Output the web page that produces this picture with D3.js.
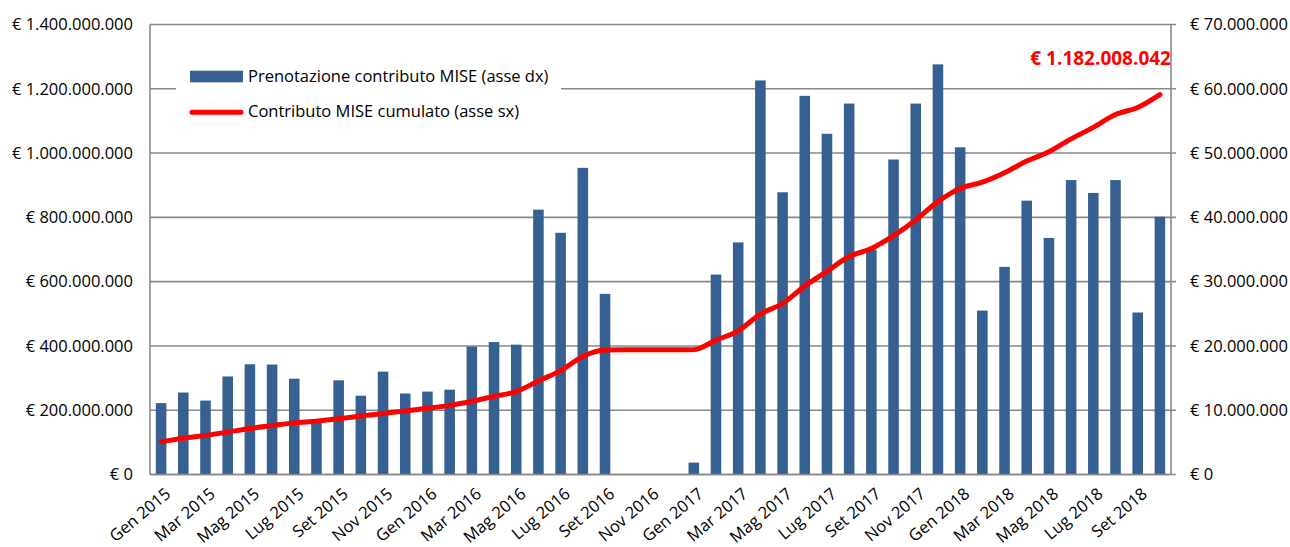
<!DOCTYPE html>
<html>
<head>
<meta charset="utf-8">
<script src="https://cdn.jsdelivr.net/npm/d3@7"></script>
<style>
  html, body { margin: 0; padding: 0; background: #fff; }
  svg { display: block; font-family: "Open Sans", "Noto Sans", sans-serif; }
</style>
</head>
<body>
<svg id="chart" width="1290" height="547"></svg>
<script>
// ---- Data ----
const months = [
  "Gen 2015","Feb 2015","Mar 2015","Apr 2015","Mag 2015","Giu 2015","Lug 2015","Ago 2015","Set 2015","Ott 2015","Nov 2015","Dic 2015",
  "Gen 2016","Feb 2016","Mar 2016","Apr 2016","Mag 2016","Giu 2016","Lug 2016","Ago 2016","Set 2016","Ott 2016","Nov 2016","Dic 2016",
  "Gen 2017","Feb 2017","Mar 2017","Apr 2017","Mag 2017","Giu 2017","Lug 2017","Ago 2017","Set 2017","Ott 2017","Nov 2017","Dic 2017",
  "Gen 2018","Feb 2018","Mar 2018","Apr 2018","Mag 2018","Giu 2018","Lug 2018","Ago 2018","Set 2018","Ott 2018"
];
// Monthly booking of MISE contribution (right axis), euro
const prenotazione = [
  11100000,12750000,11500000,15250000,17150000,17100000,14900000,8000000,14650000,12260000,16000000,12600000,
  12900000,13200000,19900000,20600000,20200000,41200000,37600000,47700000,28100000,0,0,0,
  1850000,31100000,36100000,61300000,43900000,58900000,53000000,57700000,35000000,49000000,57700000,63800000,
  50900000,25500000,32300000,42600000,36800000,45800000,43800000,45800000,25200000,40100000
];
// Cumulative MISE contribution (left axis), euro
const cumulato = [
  102000000,113000000,121500000,132000000,143000000,152000000,160600000,166000000,173600000,182000000,190000000,197500000,
  206000000,215000000,228000000,243000000,258000000,291000000,323000000,367000000,387000000,388000000,388000000,388000000,
  388500000,418000000,447000000,499000000,532000000,586000000,632000000,678000000,703000000,743000000,792000000,849000000,
  890000000,909500000,939000000,975000000,1004000000,1044000000,1080000000,1120000000,1142000000,1182008042
];
const xTickLabels = months.filter((m, i) => i % 2 === 0);
const leftTicks = [0,200000000,400000000,600000000,800000000,1000000000,1200000000,1400000000];
const rightTicks = [0,10000000,20000000,30000000,40000000,50000000,60000000,70000000];
const legendLabels = ["Prenotazione contributo MISE (asse dx)", "Contributo MISE cumulato (asse sx)"];
const annotationText = "€ 1.182.008.042";

// ---- Setup ----
const svg = d3.select("#chart");
const L = 150, R = 1171, T = 24.5, B = 474.5;
const barColor = "#376092";
const gridColor = "#898989";
const FS = 16.5;

const x = d3.scaleBand().domain(months).range([L, R]).paddingInner(0).paddingOuter(0);
const yL = d3.scaleLinear().domain([0, 1400000000]).range([B, T]);
const yR = d3.scaleLinear().domain([0, 70000000]).range([B, T]);

const loc = d3.formatLocale({decimal: ",", thousands: ".", grouping: [3], currency: ["€ ", ""]});
const fmt = loc.format("$,.0f");

// Gridlines (left axis)
svg.append("g")
  .selectAll("line").data(leftTicks).join("line")
  .attr("x1", L).attr("x2", R + 5)
  .attr("y1", d => yL(d)).attr("y2", d => yL(d))
  .attr("stroke", gridColor).attr("stroke-width", 1.6);

// Axis lines
svg.append("line").attr("x1", L).attr("x2", L).attr("y1", T).attr("y2", B)
  .attr("stroke", gridColor).attr("stroke-width", 1.6);
svg.append("line").attr("x1", R).attr("x2", R).attr("y1", T).attr("y2", B)
  .attr("stroke", gridColor).attr("stroke-width", 1.6);

// Left axis labels
const leftAxis = d3.axisLeft(yL).tickValues(leftTicks).tickSize(0).tickPadding(17).tickFormat(fmt);
const gL = svg.append("g").attr("transform", `translate(${L},0)`).call(leftAxis);
gL.select(".domain").remove();
gL.selectAll("text").attr("font-size", FS).attr("fill", "#000").attr("font-family", "'Open Sans', sans-serif");

// Right axis labels
const rightAxis = d3.axisRight(yR).tickValues(rightTicks).tickSize(0).tickPadding(19).tickFormat(fmt);
const gR = svg.append("g").attr("transform", `translate(${R},0)`).call(rightAxis);
gR.select(".domain").remove();
gR.selectAll("text").attr("font-size", FS).attr("fill", "#000").attr("font-family", "'Open Sans', sans-serif");

// Bars
const bw = x.step() * 0.476;
svg.append("g")
  .selectAll("rect").data(months.map((m, i) => ({m, v: prenotazione[i]})).filter(d => d.v > 0)).join("rect")
  .attr("x", d => x(d.m) + (x.step() - bw) / 2)
  .attr("width", bw)
  .attr("y", d => yR(d.v))
  .attr("height", d => B - yR(d.v))
  .attr("fill", barColor);

// Bottom axis line
svg.append("line").attr("x1", L).attr("x2", R).attr("y1", B).attr("y2", B)
  .attr("stroke", gridColor).attr("stroke-width", 1.6);

// Line
const line = d3.line()
  .x((d, i) => x(months[i]) + x.step() / 2)
  .y(d => yL(d))
  .curve(d3.curveMonotoneX);
svg.append("path").datum(cumulato)
  .attr("d", line)
  .attr("fill", "none").attr("stroke", "#ff0000").attr("stroke-width", 5)
  .attr("stroke-linecap", "round").attr("stroke-linejoin", "round");

// X labels
svg.append("g")
  .selectAll("text").data(xTickLabels).join("text")
  .attr("transform", d => `translate(${x(d) + x.step() / 2 + 3},${B + 12}) rotate(-40)`)
  .attr("text-anchor", "end")
  .attr("dy", "0.72em")
  .attr("font-size", FS)
  .attr("fill", "#000")
  .text(d => d);

// Legend
svg.append("rect").attr("x", 176).attr("y", 55).attr("width", 385).attr("height", 75).attr("fill", "#fff");
svg.append("rect").attr("x", 190).attr("y", 70.7).attr("width", 53).attr("height", 11.6).attr("fill", barColor);
svg.append("line").attr("x1", 192).attr("x2", 241).attr("y1", 112.3).attr("y2", 112.3)
  .attr("stroke", "#ff0000").attr("stroke-width", 5).attr("stroke-linecap", "round");
svg.append("g").selectAll("text").data(legendLabels).join("text")
  .attr("x", 248)
  .attr("y", (d, i) => i === 0 ? 82.3 : 116.7)
  .attr("font-size", FS)
  .attr("fill", "#000")
  .text(d => d);

// Annotation
svg.append("text")
  .attr("x", R).attr("y", 65)
  .attr("text-anchor", "end")
  .attr("font-size", 19).attr("font-weight", "bold")
  .attr("fill", "#ff0000")
  .text(annotationText);
</script>
</body>
</html>
